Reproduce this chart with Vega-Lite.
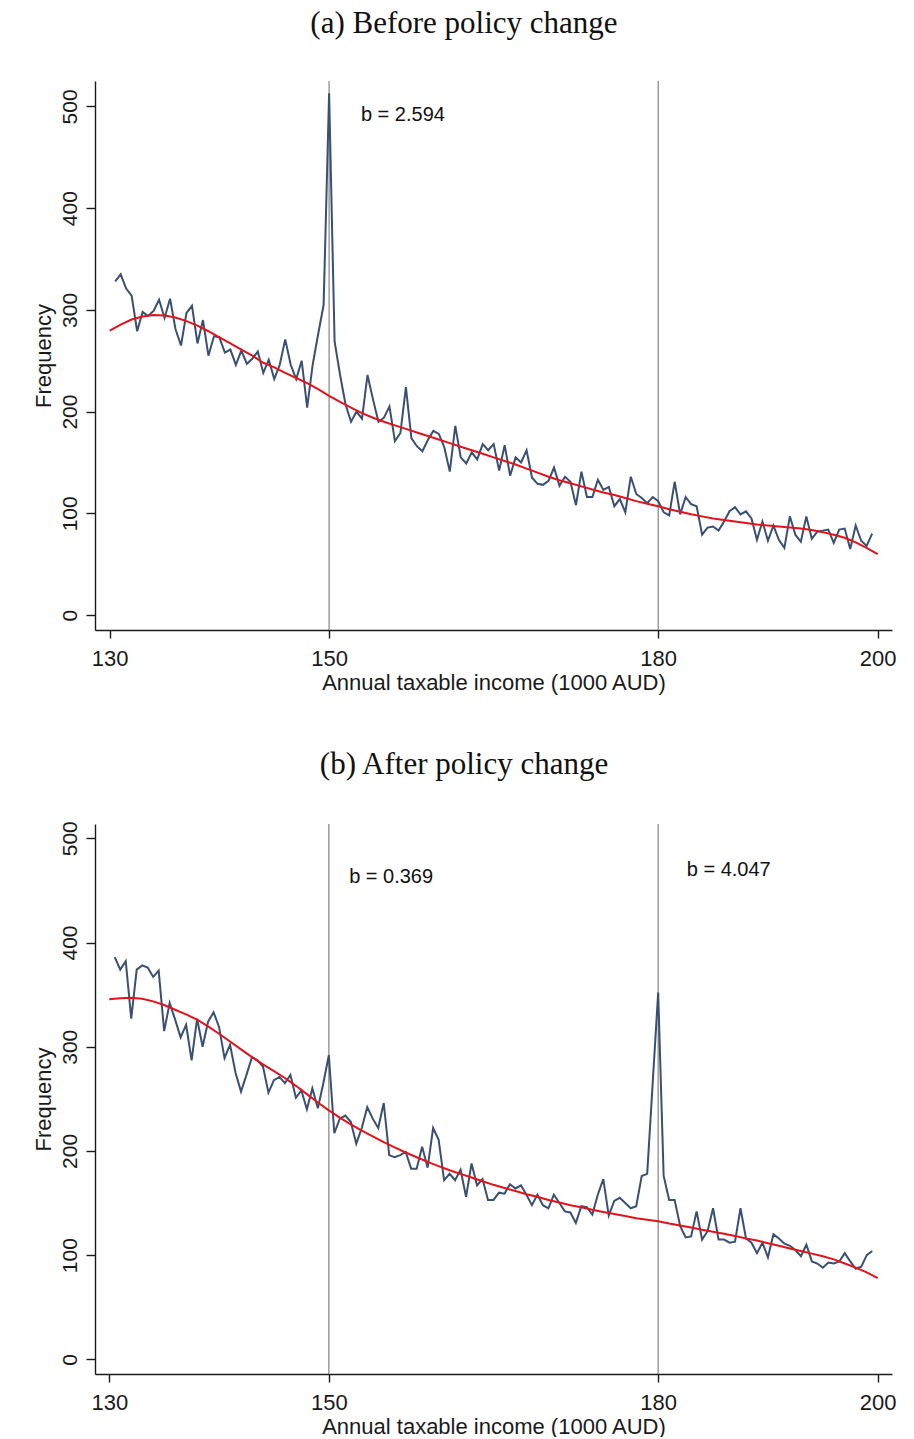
{
  "$schema": "https://vega.github.io/schema/vega-lite/v6.json",
  "padding": {"left": 31, "top": 8, "right": 10, "bottom": 0},
  "spacing": 55,
  "background": "white",
  "config": {
    "view": {"stroke": null},
    "axis": {"grid": false, "domainColor": "#1a1a1a", "tickColor": "#1a1a1a", "labelColor": "#1a1a1a", "titleColor": "#1a1a1a", "labelFont": "Liberation Sans", "titleFont": "Liberation Sans", "titleFontWeight": "normal", "domainWidth": 1.4, "tickWidth": 1.4},
    "title": {"font": "Liberation Serif", "fontSize": 31, "fontWeight": "normal", "color": "#111111", "anchor": "middle", "frame": "bounds", "offset": 40}
  },
  "datasets": {
    "a": [
      {"x":130.5,"y":328},{"x":131,"y":335},{"x":131.5,"y":321},{"x":132,"y":314},{"x":132.5,"y":279},{"x":133,"y":298},{"x":133.5,"y":294},{"x":134,"y":299},{"x":134.5,"y":310},{"x":135,"y":292},
      {"x":135.5,"y":311},{"x":136,"y":281},{"x":136.5,"y":265},{"x":137,"y":297},{"x":137.5,"y":304},{"x":138,"y":267},{"x":138.5,"y":290},{"x":139,"y":255},{"x":139.5,"y":274},{"x":140,"y":273},
      {"x":140.5,"y":258},{"x":141,"y":261},{"x":141.5,"y":246},{"x":142,"y":260},{"x":142.5,"y":247},{"x":143,"y":252},{"x":143.5,"y":259},{"x":144,"y":238},{"x":144.5,"y":251},{"x":145,"y":232},
      {"x":145.5,"y":246},{"x":146,"y":271},{"x":146.5,"y":246},{"x":147,"y":232},{"x":147.5,"y":250},{"x":148,"y":204},{"x":148.5,"y":246},{"x":149,"y":276},{"x":149.5,"y":305},{"x":150,"y":513},
      {"x":150.5,"y":269},{"x":151,"y":236},{"x":151.5,"y":207},{"x":152,"y":190},{"x":152.5,"y":200},{"x":153,"y":193},{"x":153.5,"y":236},{"x":154,"y":212},{"x":154.5,"y":190},{"x":155,"y":194},
      {"x":155.5,"y":205},{"x":156,"y":171},{"x":156.5,"y":179},{"x":157,"y":224},{"x":157.5,"y":174},{"x":158,"y":166},{"x":158.5,"y":161},{"x":159,"y":172},{"x":159.5,"y":181},{"x":160,"y":178},
      {"x":160.5,"y":165},{"x":161,"y":141},{"x":161.5,"y":186},{"x":162,"y":155},{"x":162.5,"y":149},{"x":163,"y":160},{"x":163.5,"y":153},{"x":164,"y":168},{"x":164.5,"y":162},{"x":165,"y":168},
      {"x":165.5,"y":142},{"x":166,"y":167},{"x":166.5,"y":137},{"x":167,"y":155},{"x":167.5,"y":150},{"x":168,"y":162},{"x":168.5,"y":135},{"x":169,"y":129},{"x":169.5,"y":128},{"x":170,"y":132},
      {"x":170.5,"y":145},{"x":171,"y":127},{"x":171.5,"y":136},{"x":172,"y":131},{"x":172.5,"y":108},{"x":173,"y":141},{"x":173.5,"y":116},{"x":174,"y":116},{"x":174.5,"y":133},{"x":175,"y":123},
      {"x":175.5,"y":126},{"x":176,"y":107},{"x":176.5,"y":114},{"x":177,"y":101},{"x":177.5,"y":136},{"x":178,"y":119},{"x":178.5,"y":115},{"x":179,"y":110},{"x":179.5,"y":116},{"x":180,"y":112},
      {"x":180.5,"y":101},{"x":181,"y":98},{"x":181.5,"y":131},{"x":182,"y":99},{"x":182.5,"y":116},{"x":183,"y":109},{"x":183.5,"y":107},{"x":184,"y":79},{"x":184.5,"y":86},{"x":185,"y":87},
      {"x":185.5,"y":83},{"x":186,"y":92},{"x":186.5,"y":102},{"x":187,"y":106},{"x":187.5,"y":99},{"x":188,"y":102},{"x":188.5,"y":95},{"x":189,"y":74},{"x":189.5,"y":92},{"x":190,"y":73},
      {"x":190.5,"y":88},{"x":191,"y":74},{"x":191.5,"y":66},{"x":192,"y":97},{"x":192.5,"y":79},{"x":193,"y":72},{"x":193.5,"y":97},{"x":194,"y":75},{"x":194.5,"y":82},{"x":195,"y":83},
      {"x":195.5,"y":84},{"x":196,"y":71},{"x":196.5,"y":84},{"x":197,"y":85},{"x":197.5,"y":65},{"x":198,"y":88},{"x":198.5,"y":73},{"x":199,"y":68},{"x":199.5,"y":80}
    ],
    "afit": [
      {"x":130,"y":279.5},{"x":131,"y":285.5},{"x":132,"y":290.5},{"x":133,"y":293.5},{"x":134,"y":295},{"x":135,"y":294.5},{"x":136,"y":292.5},{"x":137,"y":289},{"x":138,"y":284.5},{"x":139,"y":279},
      {"x":140,"y":273},{"x":141,"y":267},{"x":142,"y":261},{"x":143,"y":255},{"x":144,"y":248},{"x":145,"y":243.5},{"x":146,"y":238},{"x":147,"y":233},{"x":148,"y":228},{"x":149,"y":222},
      {"x":150,"y":215.5},{"x":151,"y":209.5},{"x":152,"y":204},{"x":153,"y":198.5},{"x":154,"y":194},{"x":155,"y":190},{"x":156,"y":186.5},{"x":157,"y":183},{"x":158,"y":179.5},{"x":159,"y":176},
      {"x":160,"y":172.5},{"x":161,"y":169},{"x":162,"y":165.5},{"x":163,"y":162},{"x":164,"y":158.5},{"x":165,"y":155},{"x":166,"y":151.5},{"x":167,"y":148},{"x":168,"y":144},{"x":169,"y":140},
      {"x":170,"y":136},{"x":171,"y":132.5},{"x":172,"y":129.5},{"x":173,"y":126.5},{"x":174,"y":123.5},{"x":175,"y":120.5},{"x":176,"y":118},{"x":177,"y":115},{"x":178,"y":112},{"x":179,"y":109.5},
      {"x":180,"y":107},{"x":181,"y":104},{"x":182,"y":101.5},{"x":183,"y":99},{"x":184,"y":97},{"x":185,"y":95},{"x":186,"y":93.5},{"x":187,"y":92},{"x":188,"y":90.5},{"x":189,"y":89},
      {"x":190,"y":88},{"x":191,"y":87},{"x":192,"y":86},{"x":193,"y":85},{"x":194,"y":83.5},{"x":195,"y":81.5},{"x":196,"y":79},{"x":197,"y":76},{"x":198,"y":71.5},{"x":199,"y":66},{"x":200,"y":60}
    ],
    "b": [
      {"x":130.5,"y":386},{"x":131,"y":374},{"x":131.5,"y":382},{"x":132,"y":327},{"x":132.5,"y":374},{"x":133,"y":378},{"x":133.5,"y":376},{"x":134,"y":367},{"x":134.5,"y":373},{"x":135,"y":315},
      {"x":135.5,"y":342},{"x":136,"y":326},{"x":136.5,"y":309},{"x":137,"y":321},{"x":137.5,"y":287},{"x":138,"y":327},{"x":138.5,"y":300},{"x":139,"y":324},{"x":139.5,"y":333},{"x":140,"y":319},
      {"x":140.5,"y":289},{"x":141,"y":302},{"x":141.5,"y":275},{"x":142,"y":257},{"x":142.5,"y":273},{"x":143,"y":290},{"x":143.5,"y":287},{"x":144,"y":281},{"x":144.5,"y":256},{"x":145,"y":268},
      {"x":145.5,"y":271},{"x":146,"y":265},{"x":146.5,"y":273},{"x":147,"y":251},{"x":147.5,"y":258},{"x":148,"y":240},{"x":148.5,"y":260},{"x":149,"y":241},{"x":149.5,"y":265},{"x":150,"y":292},
      {"x":150.5,"y":217},{"x":151,"y":231},{"x":151.5,"y":234},{"x":152,"y":228},{"x":152.5,"y":207},{"x":153,"y":222},{"x":153.5,"y":242},{"x":154,"y":231},{"x":154.5,"y":222},{"x":155,"y":246},
      {"x":155.5,"y":196},{"x":156,"y":194},{"x":156.5,"y":196},{"x":157,"y":199},{"x":157.5,"y":183},{"x":158,"y":183},{"x":158.5,"y":204},{"x":159,"y":184},{"x":159.5,"y":222},{"x":160,"y":211},
      {"x":160.5,"y":172},{"x":161,"y":178},{"x":161.5,"y":172},{"x":162,"y":182},{"x":162.5,"y":156},{"x":163,"y":188},{"x":163.5,"y":167},{"x":164,"y":173},{"x":164.5,"y":153},{"x":165,"y":153},
      {"x":165.5,"y":160},{"x":166,"y":159},{"x":166.5,"y":168},{"x":167,"y":164},{"x":167.5,"y":167},{"x":168,"y":158},{"x":168.5,"y":148},{"x":169,"y":158},{"x":169.5,"y":148},{"x":170,"y":145},
      {"x":170.5,"y":158},{"x":171,"y":150},{"x":171.5,"y":142},{"x":172,"y":141},{"x":172.5,"y":131},{"x":173,"y":147},{"x":173.5,"y":146},{"x":174,"y":139},{"x":174.5,"y":158},{"x":175,"y":173},
      {"x":175.5,"y":138},{"x":176,"y":152},{"x":176.5,"y":155},{"x":177,"y":150},{"x":177.5,"y":145},{"x":178,"y":147},{"x":178.5,"y":176},{"x":179,"y":178},{"x":179.5,"y":265},{"x":180,"y":352},
      {"x":180.5,"y":176},{"x":181,"y":153},{"x":181.5,"y":153},{"x":182,"y":128},{"x":182.5,"y":117},{"x":183,"y":118},{"x":183.5,"y":142},{"x":184,"y":115},{"x":184.5,"y":123},{"x":185,"y":145},
      {"x":185.5,"y":115},{"x":186,"y":115},{"x":186.5,"y":112},{"x":187,"y":113},{"x":187.5,"y":145},{"x":188,"y":116},{"x":188.5,"y":112},{"x":189,"y":102},{"x":189.5,"y":112},{"x":190,"y":98},
      {"x":190.5,"y":120},{"x":191,"y":116},{"x":191.5,"y":111},{"x":192,"y":109},{"x":192.5,"y":105},{"x":193,"y":99},{"x":193.5,"y":110},{"x":194,"y":94},{"x":194.5,"y":92},{"x":195,"y":88},
      {"x":195.5,"y":93},{"x":196,"y":92},{"x":196.5,"y":94},{"x":197,"y":102},{"x":197.5,"y":94},{"x":198,"y":87},{"x":198.5,"y":89},{"x":199,"y":100},{"x":199.5,"y":104}
    ],
    "bfit": [
      {"x":130,"y":345.5},{"x":131,"y":346.5},{"x":132,"y":347},{"x":133,"y":346},{"x":134,"y":343.5},{"x":135,"y":340},{"x":136,"y":335.5},{"x":137,"y":331},{"x":138,"y":326},{"x":139,"y":319.5},
      {"x":140,"y":312.5},{"x":141,"y":305},{"x":142,"y":297.5},{"x":143,"y":290},{"x":144,"y":283},{"x":145,"y":276.5},{"x":146,"y":270},{"x":147,"y":262.5},{"x":148,"y":254.5},{"x":149,"y":246.5},
      {"x":150,"y":239},{"x":151,"y":232},{"x":152,"y":225.5},{"x":153,"y":219.5},{"x":154,"y":214},{"x":155,"y":208.5},{"x":156,"y":203.5},{"x":157,"y":198.5},{"x":158,"y":194},{"x":159,"y":189.5},
      {"x":160,"y":185.5},{"x":161,"y":181.5},{"x":162,"y":178},{"x":163,"y":174.5},{"x":164,"y":171},{"x":165,"y":167.5},{"x":166,"y":164.5},{"x":167,"y":161.5},{"x":168,"y":158.5},{"x":169,"y":156},
      {"x":170,"y":153},{"x":171,"y":150.5},{"x":172,"y":148},{"x":173,"y":146},{"x":174,"y":143.5},{"x":175,"y":141.5},{"x":176,"y":139.5},{"x":177,"y":137.5},{"x":178,"y":135.5},{"x":179,"y":134},
      {"x":180,"y":132.5},{"x":181,"y":130.5},{"x":182,"y":128.5},{"x":183,"y":126.5},{"x":184,"y":124.5},{"x":185,"y":122.5},{"x":186,"y":120.5},{"x":187,"y":118.5},{"x":188,"y":116},{"x":189,"y":114},
      {"x":190,"y":111.5},{"x":191,"y":109},{"x":192,"y":106.5},{"x":193,"y":104},{"x":194,"y":101.5},{"x":195,"y":99},{"x":196,"y":96},{"x":197,"y":92},{"x":198,"y":88},{"x":199,"y":83.5},{"x":200,"y":78}
    ],
    "va": [{"x":150},{"x":180}],
    "vb": [{"x":150},{"x":180}],
    "ta": [{"x":152.9,"y":491.5,"label":"b = 2.594"}],
    "tb": [{"x":151.85,"y":462.6,"label":"b = 0.369"},{"x":182.6,"y":469.6,"label":"b = 4.047"}]
  },
  "vconcat": [
    {
      "title": "(a) Before policy change",
      "width": 797,
      "height": 549,
      "layer": [
        {
          "data": {"name": "va"},
          "mark": {"type": "rule", "color": "#8c8c8c", "strokeWidth": 1.3},
          "encoding": {
            "x": {"field": "x", "type": "quantitative", "scale": {"domain": [128.66, 201.31], "nice": false, "zero": false},
                  "axis": {"values": [130,150,180,200], "title": "Annual taxable income (1000 AUD)", "labelFontSize": 22, "titleFontSize": 22, "tickSize": 8, "labelPadding": 10, "titlePadding": 3, "labelFlush": false}}
          }
        },
        {
          "data": {"name": "a"},
          "mark": {"type": "line", "color": "#3a5070", "strokeWidth": 2},
          "encoding": {
            "x": {"field": "x", "type": "quantitative", "scale": {"domain": [128.66, 201.31], "nice": false, "zero": false},
                  "axis": {"values": [130,150,180,200], "title": "Annual taxable income (1000 AUD)", "labelFontSize": 22, "titleFontSize": 22, "tickSize": 8, "labelPadding": 10, "titlePadding": 3, "labelFlush": false}},
            "y": {"field": "y", "type": "quantitative", "scale": {"domain": [-14.7, 525], "nice": false, "zero": false},
                  "axis": {"values": [0,100,200,300,400,500], "title": "Frequency", "labelAngle": -90, "labelFontSize": 21, "titleFontSize": 22, "tickSize": 9, "labelPadding": 6, "titlePadding": 4, "labelFlush": false}}
          }
        },
        {
          "data": {"name": "afit"},
          "mark": {"type": "line", "color": "#e3121b", "strokeWidth": 2},
          "encoding": {
            "x": {"field": "x", "type": "quantitative"},
            "y": {"field": "y", "type": "quantitative"}
          }
        },
        {
          "data": {"name": "ta"},
          "mark": {"type": "text", "align": "left", "baseline": "middle", "font": "Liberation Sans", "fontSize": 20, "color": "#111111"},
          "encoding": {
            "x": {"field": "x", "type": "quantitative"},
            "y": {"field": "y", "type": "quantitative"},
            "text": {"field": "label"}
          }
        }
      ]
    },
    {
      "title": "(b) After policy change",
      "width": 797,
      "height": 550,
      "layer": [
        {
          "data": {"name": "vb"},
          "mark": {"type": "rule", "color": "#8c8c8c", "strokeWidth": 1.3},
          "encoding": {
            "x": {"field": "x", "type": "quantitative", "scale": {"domain": [128.7, 201.3], "nice": false, "zero": false},
                  "axis": {"values": [130,150,180,200], "title": "Annual taxable income (1000 AUD)", "labelFontSize": 22, "titleFontSize": 22, "tickSize": 8, "labelPadding": 10, "titlePadding": 3, "labelFlush": false}}
          }
        },
        {
          "data": {"name": "b"},
          "mark": {"type": "line", "color": "#3a5070", "strokeWidth": 2},
          "encoding": {
            "x": {"field": "x", "type": "quantitative", "scale": {"domain": [128.7, 201.3], "nice": false, "zero": false},
                  "axis": {"values": [130,150,180,200], "title": "Annual taxable income (1000 AUD)", "labelFontSize": 22, "titleFontSize": 22, "tickSize": 8, "labelPadding": 10, "titlePadding": 3, "labelFlush": false}},
            "y": {"field": "y", "type": "quantitative", "scale": {"domain": [-14, 513.7], "nice": false, "zero": false},
                  "axis": {"values": [0,100,200,300,400,500], "title": "Frequency", "labelAngle": -90, "labelFontSize": 21, "titleFontSize": 22, "tickSize": 9, "labelPadding": 6, "titlePadding": 4, "labelFlush": false}}
          }
        },
        {
          "data": {"name": "bfit"},
          "mark": {"type": "line", "color": "#e3121b", "strokeWidth": 2},
          "encoding": {
            "x": {"field": "x", "type": "quantitative"},
            "y": {"field": "y", "type": "quantitative"}
          }
        },
        {
          "data": {"name": "tb"},
          "mark": {"type": "text", "align": "left", "baseline": "middle", "font": "Liberation Sans", "fontSize": 20, "color": "#111111"},
          "encoding": {
            "x": {"field": "x", "type": "quantitative"},
            "y": {"field": "y", "type": "quantitative"},
            "text": {"field": "label"}
          }
        }
      ]
    }
  ]
}
